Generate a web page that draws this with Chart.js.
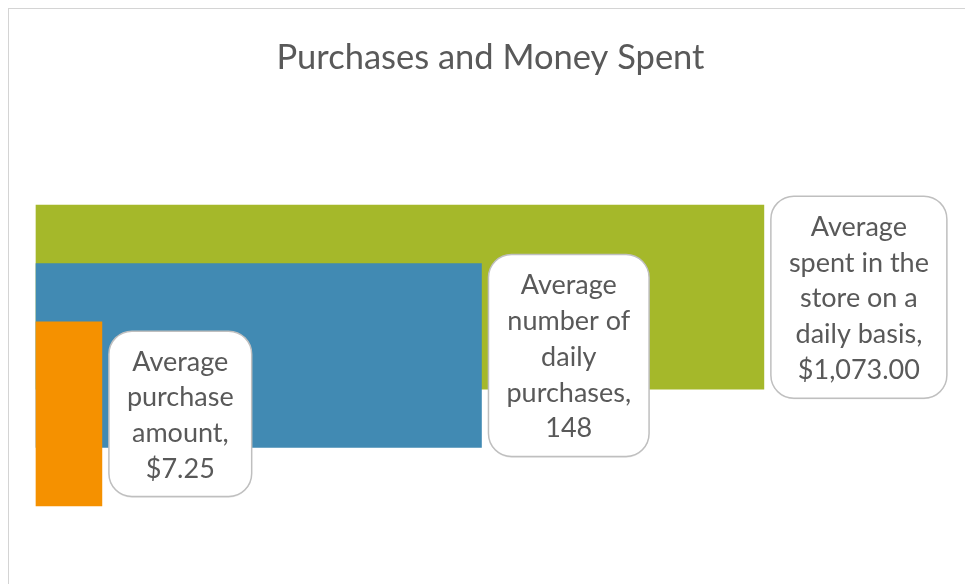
<!DOCTYPE html>
<html>
<head>
<meta charset="utf-8">
<script src="https://cdn.jsdelivr.net/npm/chart.js@4.4.1/dist/chart.umd.min.js"></script>
<style>
  html, body { margin: 0; padding: 0; background: #ffffff; }
  #wrap { position: relative; width: 965px; height: 584px; overflow: hidden; background: #ffffff; }
  #frame { position: absolute; left: 8px; top: 8px; width: 1200px; height: 1200px; border: 1px solid #d4d4d4; box-sizing: border-box; }
  #c { position: absolute; left: 0; top: 0; }
</style>
</head>
<body>
<div id="wrap">
  <div id="frame"></div>
  <canvas id="c" width="965" height="584"></canvas>
</div>
<script>
// ---- data ----
const chartTitle = "Purchases and Money Spent";
const categories = [
  "Average spent in the store on a daily basis",
  "Average number of daily purchases",
  "Average purchase amount"
];
const values = [1073.00, 148, 7.25];
const valueFormats = ["currency", "number", "currency"];
// how each category name is wrapped inside its label box
const categoryLines = [
  ["Average", "spent in the", "store on a", "daily basis,"],
  ["Average", "number of", "daily", "purchases,"],
  ["Average", "purchase", "amount,"]
];
// each series has its own (hidden) value axis, as in the original
const axisMax = [1340, 302, 100];
const colors = ["#A5B82A", "#418AB3", "#F59100"];

function fmt(v, kind) {
  if (kind === "currency") {
    return "$" + v.toLocaleString("en-US", { minimumFractionDigits: 2, maximumFractionDigits: 2 });
  }
  return v.toLocaleString("en-US");
}

const datasets = categories.map((cat, i) => ({
  label: cat,
  data: categories.map((_, j) => (j === i ? values[i] : null)),
  backgroundColor: colors[i],
  borderWidth: 0,
  xAxisID: "x" + i,
  order: categories.length - i,
  clip: false,
  grouped: false,
  barThickness: 184
}));

const scales = {
  y: { type: "category", display: false, offset: true, grid: { display: false } }
};
categories.forEach((_, i) => {
  scales["x" + i] = {
    type: "linear", display: false, min: 0, max: axisMax[i],
    position: "bottom", grid: { display: false }
  };
});

const labelBoxes = {
  id: "labelBoxes",
  afterDatasetsDraw(chart) {
    const ctx = chart.ctx;
    const font = "27px Lato";
    const lineH = 35.7;
    chart.data.datasets.forEach((ds, i) => {
      const meta = chart.getDatasetMeta(i);
      const el = meta.data[i];
      if (!el) return;
      const lines = categoryLines[i].concat([fmt(values[i], valueFormats[i])]);
      ctx.save();
      ctx.font = font;
      let maxW = 0;
      lines.forEach(l => { maxW = Math.max(maxW, ctx.measureText(l).width); });
      const w = maxW + 36;
      const h = 36.6 * lines.length + 19;
      const x = el.x + 7;
      const y = el.y - h / 2;
      // shadow
      ctx.beginPath();
      ctx.roundRect(x, y + 1.2, w, h, 23);
      ctx.fillStyle = "rgba(0,0,0,0.10)";
      ctx.fill();
      ctx.beginPath();
      ctx.roundRect(x, y, w, h, 23);
      ctx.fillStyle = "#ffffff";
      ctx.fill();
      ctx.lineWidth = 1.5;
      ctx.strokeStyle = "#BFBFBF";
      ctx.stroke();
      ctx.fillStyle = "#595959";
      ctx.textAlign = "center";
      ctx.textBaseline = "alphabetic";
      const cx = x + w / 2;
      lines.forEach((l, k) => {
        const by = el.y + (k - (lines.length - 1) / 2) * lineH + 10.3;
        ctx.fillText(l, cx, by);
      });
      ctx.restore();
    });
  }
};

new Chart(document.getElementById("c"), {
  type: "bar",
  data: { labels: categories, datasets },
  options: {
    indexAxis: "y",
    responsive: false,
    animation: false,
    events: [],
    layout: { padding: { left: 36, right: 20, top: 0, bottom: 141 } },
    scales,
    plugins: {
      legend: { display: false },
      tooltip: { enabled: false },
      title: {
        display: true,
        text: chartTitle,
        color: "#595959",
        font: { family: "Lato", size: 34.5, weight: "normal", lineHeight: 1.2 },
        padding: { top: 37, bottom: 189.6 }
      }
    }
  },
  plugins: [labelBoxes]
});
</script>
</body>
</html>
